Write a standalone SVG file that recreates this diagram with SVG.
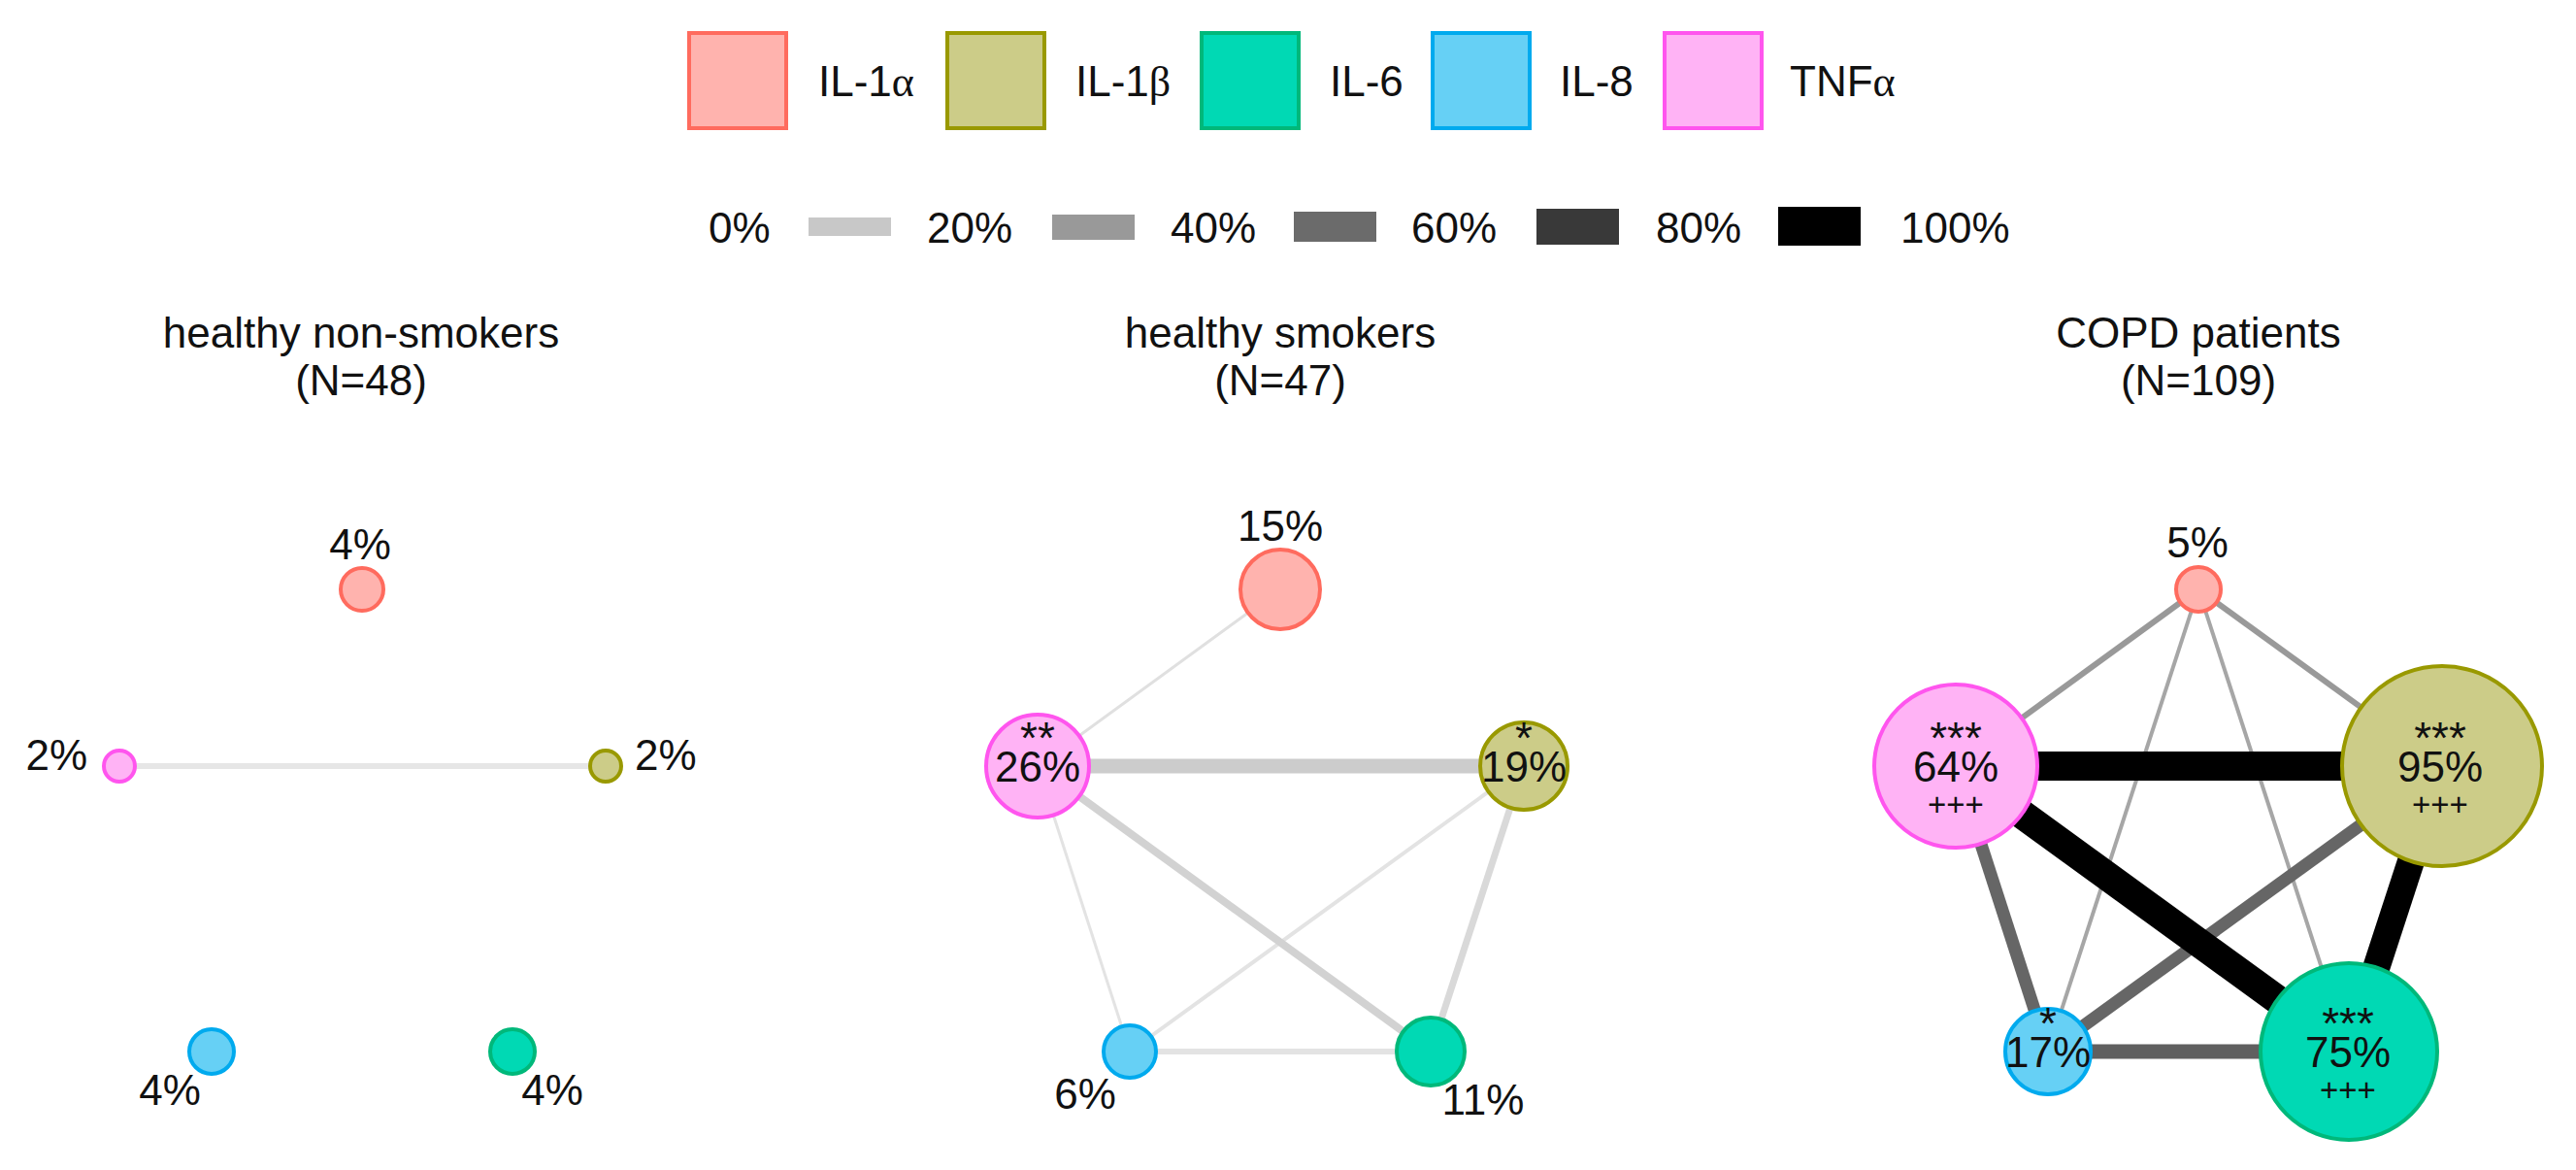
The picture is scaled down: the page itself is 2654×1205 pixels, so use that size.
<svg xmlns="http://www.w3.org/2000/svg" width="2654" height="1205" viewBox="0 0 2654 1205">
<style>
text{font-family:"Liberation Sans",Arial,sans-serif;font-size:44px;fill:#111111}
.c{text-anchor:middle}
.e{text-anchor:end}
.g{font-family:"Liberation Serif","Times New Roman",serif}
.pl{font-size:33px}
.st{font-size:46px}
.n{stroke-width:4}
.a{fill:#ffb3ae;stroke:#ff6b5e}
.b{fill:#cccc88;stroke:#999900}
.s{fill:#00d9b4;stroke:#00b87a}
.h{fill:#66d0f5;stroke:#00aaee}
.t{fill:#ffb3f5;stroke:#ff55ee}
line{stroke-linecap:butt}
</style>
<rect width="2654" height="1205" fill="#ffffff"/>

<g id="legend-cytokines">
<rect class="n a" x="710" y="34" width="100" height="98"/>
<text x="843" y="99">IL-1<tspan class="g">α</tspan></text>
<rect class="n b" x="976" y="34" width="100" height="98"/>
<text x="1108" y="99">IL-1<tspan class="g">β</tspan></text>
<rect class="n s" x="1238" y="34" width="100" height="98"/>
<text x="1370" y="99">IL-6</text>
<rect class="n h" x="1476" y="34" width="100" height="98"/>
<text x="1607" y="99">IL-8</text>
<rect class="n t" x="1715" y="34" width="100" height="98"/>
<text x="1844" y="99">TNF<tspan class="g">α</tspan></text>
</g>

<g id="legend-edges">
<text x="730" y="250">0%</text>
<rect x="833" y="224" width="85" height="19" fill="#c8c8c8"/>
<text x="955" y="250">20%</text>
<rect x="1084" y="221" width="85" height="26" fill="#999999"/>
<text x="1206" y="250">40%</text>
<rect x="1333" y="218" width="85" height="31" fill="#6b6b6b"/>
<text x="1454" y="250">60%</text>
<rect x="1583" y="215" width="85" height="37" fill="#393939"/>
<text x="1706" y="250">80%</text>
<rect x="1832" y="213" width="85" height="40" fill="#000000"/>
<text x="1958" y="250">100%</text>
</g>

<g id="titles">
<text class="c" x="372" y="358">healthy non-smokers</text>
<text class="c" x="372" y="407">(N=48)</text>
<text class="c" x="1319" y="358">healthy smokers</text>
<text class="c" x="1319" y="407">(N=47)</text>
<text class="c" x="2265" y="358">COPD patients</text>
<text class="c" x="2265" y="407">(N=109)</text>
</g>

<g id="connectors">
<!-- panel 1 -->
<line x1="123" y1="789" x2="624" y2="789" stroke="#e6e6e6" stroke-width="6"/>
<!-- panel 2 -->
<line x1="1319" y1="607" x2="1069" y2="789" stroke="#e0e0e0" stroke-width="3"/>
<line x1="1069" y1="789" x2="1164" y2="1083" stroke="#e3e3e3" stroke-width="3"/>
<line x1="1570" y1="789" x2="1164" y2="1083" stroke="#e3e3e3" stroke-width="4"/>
<line x1="1164" y1="1083" x2="1474" y2="1083" stroke="#e3e3e3" stroke-width="6"/>
<line x1="1570" y1="789" x2="1474" y2="1083" stroke="#d9d9d9" stroke-width="7"/>
<line x1="1069" y1="789" x2="1474" y2="1083" stroke="#d2d2d2" stroke-width="8"/>
<line x1="1069" y1="789" x2="1570" y2="789" stroke="#cccccc" stroke-width="15"/>
<!-- panel 3 -->
<line x1="2265" y1="607" x2="2015" y2="789" stroke="#999999" stroke-width="6"/>
<line x1="2265" y1="607" x2="2516" y2="789" stroke="#999999" stroke-width="6"/>
<line x1="2265" y1="607" x2="2110" y2="1083" stroke="#a6a6a6" stroke-width="4"/>
<line x1="2265" y1="607" x2="2420" y2="1083" stroke="#a6a6a6" stroke-width="4"/>
<line x1="2015" y1="789" x2="2110" y2="1083" stroke="#666666" stroke-width="13"/>
<line x1="2516" y1="789" x2="2110" y2="1083" stroke="#666666" stroke-width="13"/>
<line x1="2110" y1="1083" x2="2420" y2="1083" stroke="#606060" stroke-width="15"/>
<line x1="2015" y1="789" x2="2420" y2="1083" stroke="#000000" stroke-width="30"/>
<line x1="2516" y1="789" x2="2420" y2="1083" stroke="#000000" stroke-width="28"/>
<line x1="2015" y1="789" x2="2516" y2="789" stroke="#000000" stroke-width="30"/>
</g>

<!-- panel 1 nodes -->
<g id="p1-il1a"><circle class="n a" cx="373" cy="607" r="22"/><text class="c" x="371" y="576">4%</text></g>
<g id="p1-tnfa"><circle class="n t" cx="123" cy="789" r="16"/><text class="e" x="90" y="793">2%</text></g>
<g id="p1-il1b"><circle class="n b" cx="624" cy="789" r="16"/><text x="654" y="793">2%</text></g>
<g id="p1-il8"><circle class="n h" cx="218" cy="1083" r="23"/><text class="c" x="175" y="1138">4%</text></g>
<g id="p1-il6"><circle class="n s" cx="528" cy="1083" r="23"/><text class="c" x="569" y="1138">4%</text></g>

<!-- panel 2 nodes -->
<g id="p2-il1a"><circle class="n a" cx="1319" cy="607" r="41"/><text class="c" x="1319" y="557">15%</text></g>
<g id="p2-tnfa"><circle class="n t" cx="1069" cy="789" r="53"/><text class="c st" x="1069" y="776">**</text><text class="c" x="1069" y="805">26%</text></g>
<g id="p2-il1b"><circle class="n b" cx="1570" cy="789" r="45"/><text class="c st" x="1570" y="776">*</text><text class="c" x="1570" y="805">19%</text></g>
<g id="p2-il8"><circle class="n h" cx="1164" cy="1083" r="27"/><text class="c" x="1118" y="1142">6%</text></g>
<g id="p2-il6"><circle class="n s" cx="1474" cy="1083" r="35"/><text class="c" x="1528" y="1148">11%</text></g>

<!-- panel 3 nodes -->
<g id="p3-il1a"><circle class="n a" cx="2265" cy="607" r="23"/><text class="c" x="2264" y="574">5%</text></g>
<g id="p3-tnfa"><circle class="n t" cx="2015" cy="789" r="84"/><text class="c st" x="2015" y="776">***</text><text class="c" x="2015" y="805">64%</text><text class="c pl" x="2015" y="840">+++</text></g>
<g id="p3-il1b"><circle class="n b" cx="2516" cy="789" r="103"/><text class="c st" x="2514" y="776">***</text><text class="c" x="2514" y="805">95%</text><text class="c pl" x="2514" y="840">+++</text></g>
<g id="p3-il8"><circle class="n h" cx="2110" cy="1083" r="44"/><text class="c st" x="2110" y="1070">*</text><text class="c" x="2110" y="1099">17%</text></g>
<g id="p3-il6"><circle class="n s" cx="2420" cy="1083" r="91"/><text class="c st" x="2419" y="1070">***</text><text class="c" x="2419" y="1099">75%</text><text class="c pl" x="2419" y="1134">+++</text></g>
</svg>
